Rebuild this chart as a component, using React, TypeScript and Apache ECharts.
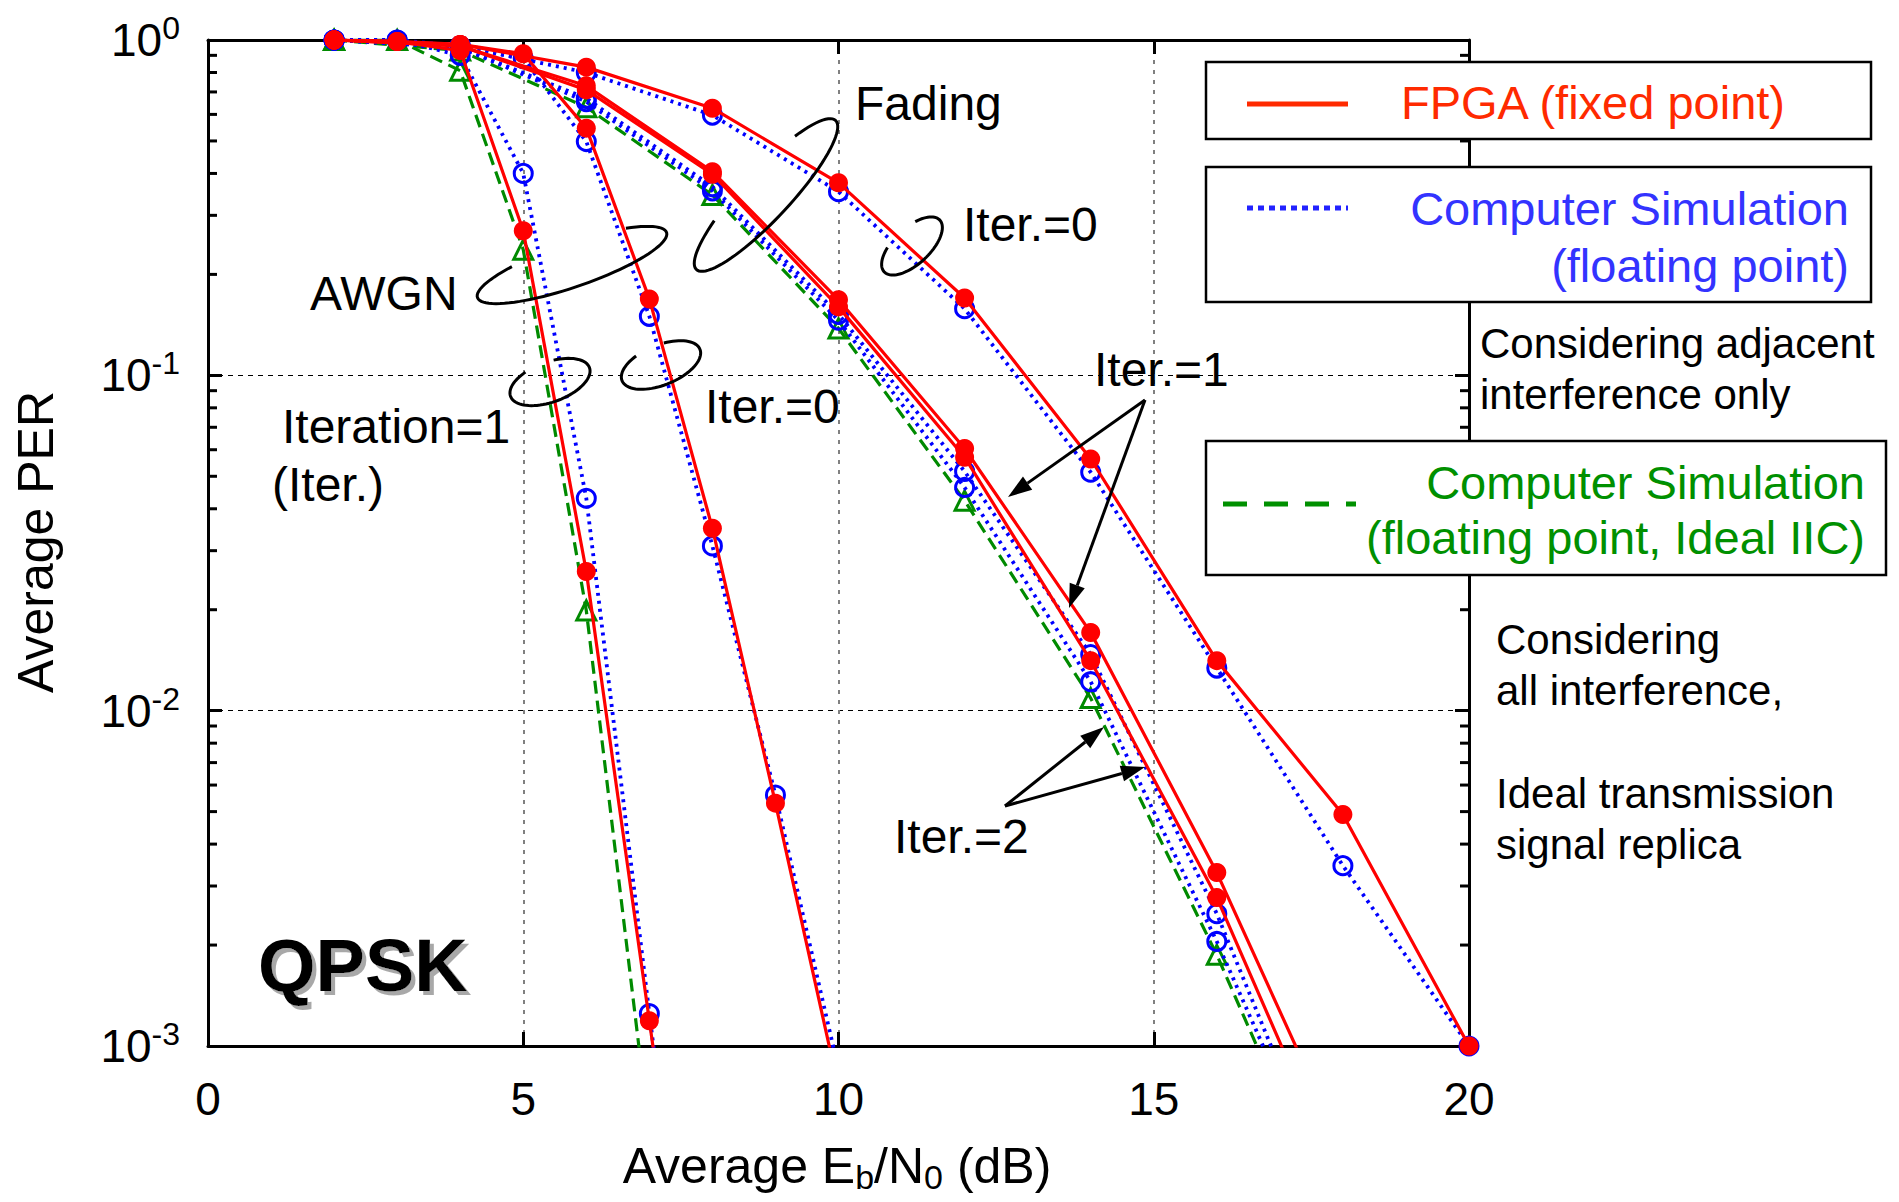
import React, { useEffect, useRef } from 'react';
import * as echarts from 'echarts';

const FONT = '"Liberation Sans", Arial, Helvetica, sans-serif';

// ---- tick labels ----
const xTickLabels = ['0', '5', '10', '15', '20'];
const yTickExponents = ['0', '-1', '-2', '-3'];
const yMinorTicks = [
  0.002, 0.003, 0.004, 0.005, 0.006, 0.007, 0.008, 0.009,
  0.02, 0.03, 0.04, 0.05, 0.06, 0.07, 0.08, 0.09,
  0.2, 0.3, 0.4, 0.5, 0.6, 0.7, 0.8, 0.9,
];

// ---- AWGN ----
const snrAwgn = [2, 3, 4, 5, 6, 7, 8, 9, 10];
const awgnIter0Fpga = [1, 0.99, 0.97, 0.91, 0.546, 0.169, 0.035, 0.0053, 0.00075];
const awgnIter0Sim = [1, 1, 0.96, 0.88, 0.498, 0.15, 0.031, 0.0056, 0.00085];
const awgnIter1Fpga = [1, 0.99, 0.93, 0.27, 0.026, 0.00119, 0.000055];
const awgnIter1Sim = [1, 1, 0.9, 0.4, 0.043, 0.00125, 0.00004];
const awgnIter1Ideal = [1, 1, 0.81, 0.237, 0.0199, 0.00055];

// ---- Fading ----
const snrFading = [2, 4, 6, 8, 10, 12, 14, 16, 18, 20];
const fadingIter0Fpga = [1, 0.97, 0.83, 0.626, 0.375, 0.17, 0.0563, 0.0141, 0.0049, 0.001];
const fadingIter0Sim = [1, 0.96, 0.8, 0.597, 0.353, 0.158, 0.0514, 0.0134, 0.00345, 0.001];
const fadingIter1Fpga = [1, 0.96, 0.73, 0.405, 0.168, 0.0605, 0.0171, 0.00329, 0.00049];
const fadingIter2Fpga = [1, 0.96, 0.71, 0.398, 0.16, 0.057, 0.0141, 0.00277, 0.00038];
const fadingIter1Sim = [1, 0.95, 0.67, 0.365, 0.152, 0.0517, 0.0147, 0.00248, 0.0003];
const fadingIter2Sim = [1, 0.95, 0.655, 0.355, 0.146, 0.0463, 0.0122, 0.00205, 0.00029];
const fadingIdeal = [1, 0.93, 0.63, 0.345, 0.138, 0.0423, 0.0109, 0.00187, 0.00026];

const RED = '#ff0000';
const BLUE = '#0000ff';
const GREEN = '#008a00';

const zip = (xs: number[], ys: number[]) => ys.map((y, i) => [xs[i], y]);

const redSeries = (name: string, xs: number[], ys: number[]) => ({
  type: 'line', name, data: zip(xs, ys), clip: true, z: 5,
  symbol: 'circle', symbolSize: 19,
  itemStyle: { color: RED },
  lineStyle: { color: RED, width: 3.2 },
  emphasis: { disabled: true },
});
const blueSeries = (name: string, xs: number[], ys: number[]) => ({
  type: 'line', name, data: zip(xs, ys), clip: true, z: 4,
  symbol: 'circle', symbolSize: 18,
  itemStyle: { color: 'rgba(0,0,0,0)', borderColor: BLUE, borderWidth: 3 },
  lineStyle: { color: BLUE, width: 3.8, type: [3, 5] },
  emphasis: { disabled: true },
});
const greenSeries = (name: string, xs: number[], ys: number[]) => ({
  type: 'line', name, data: zip(xs, ys), clip: true, z: 3,
  symbol: 'triangle', symbolSize: 19,
  itemStyle: { color: 'rgba(0,0,0,0)', borderColor: GREEN, borderWidth: 3 },
  lineStyle: { color: GREEN, width: 3.2, type: [13, 7] },
  emphasis: { disabled: true },
});

function ellipsePoints(cx: number, cy: number, a: number, b: number, rotDeg: number, t0: number, t1: number) {
  const r = (rotDeg * Math.PI) / 180;
  const ux = Math.cos(r), uy = Math.sin(r);
  const vx = -uy, vy = ux;
  const pts: number[][] = [];
  const n = 72;
  for (let i = 0; i <= n; i++) {
    const t = ((t0 + ((t1 - t0) * i) / n) * Math.PI) / 180;
    const ca = a * Math.cos(t), sb = b * Math.sin(t);
    pts.push([cx + ca * ux + sb * vx, cy + ca * uy + sb * vy]);
  }
  return { type: 'polyline', z: 100, shape: { points: pts }, style: { stroke: '#000', lineWidth: 3, fill: null } };
}

function arrow(x1: number, y1: number, x2: number, y2: number) {
  const dx = x2 - x1, dy = y2 - y1;
  const L = Math.hypot(dx, dy);
  const ux = dx / L, uy = dy / L;
  const hl = 24, hw = 8;
  const bx = x2 - ux * hl, by = y2 - uy * hl;
  return [
    { type: 'line', z: 100, shape: { x1, y1, x2: bx, y2: by }, style: { stroke: '#000', lineWidth: 3 } },
    {
      type: 'polygon', z: 100,
      shape: { points: [[x2, y2], [bx - uy * hw, by + ux * hw], [bx + uy * hw, by - ux * hw]] },
      style: { fill: '#000' },
    },
  ];
}

const txt = (text: string, x: number, y: number, opts: any = {}) => ({
  type: 'text', x, y, z: 100,
  style: { text, fontSize: 48, fontFamily: FONT, fill: '#000', align: 'left', verticalAlign: 'middle', ...opts },
});

export default function App() {
  const ref = useRef<HTMLDivElement>(null);
  useEffect(() => {
    if (!ref.current) return;
    const chart = echarts.init(ref.current, null, { renderer: 'svg' });

    const axisLineStyle = { color: '#000', width: 3 };
    const graphics: any[] = [
      // axis titles
      {
        type: 'text', x: 36, y: 542, rotation: Math.PI / 2, z: 100,
        style: { text: 'Average PER', fontSize: 50, fontFamily: FONT, fill: '#000', align: 'center', verticalAlign: 'middle' },
      },
      {
        type: 'text', x: 837, y: 1166, z: 100,
        style: {
          text: '{m|Average E}{s|b}{m|/N}{s|0}{m| (dB)}',
          align: 'center', verticalAlign: 'middle', fontFamily: FONT, fill: '#000',
          rich: {
            m: { fontSize: 50, lineHeight: 56, fontFamily: FONT, fill: '#000' },
            s: { fontSize: 34, lineHeight: 36, verticalAlign: 'bottom', fontFamily: FONT, fill: '#000' },
          },
        },
      },
      // annotations
      txt('Fading', 855, 103),
      txt('Iter.=0', 963, 224),
      txt('AWGN', 310, 293),
      txt('Iteration=1', 282, 426),
      txt('(Iter.)', 272, 484),
      txt('Iter.=0', 705, 406),
      txt('Iter.=1', 1094, 369),
      txt('Iter.=2', 894, 836),
      txt('QPSK', 258, 965, {
        fontSize: 74, fontWeight: 'bold', fill: '#000',
        textShadowColor: '#a8a8a8', textShadowBlur: 1, textShadowOffsetX: 4, textShadowOffsetY: 4,
      }),
      // loops
      ellipsePoints(572, 265, 100, 22, -19, -51, 235),
      ellipsePoints(766, 195, 102, 24, -47, -52, 238),
      ellipsePoints(550, 382, 42, 20, -20, -75, 242),
      ellipsePoints(661, 365, 42, 20, -22, -75, 242),
      ellipsePoints(912, 246, 38, 18, -43, -60, 240),
      // arrows
      ...arrow(1145, 400, 1008, 497),
      ...arrow(1145, 400, 1069, 608),
      ...arrow(1005, 806, 1104, 727),
      ...arrow(1005, 806, 1145, 767),
      // legend boxes
      { type: 'rect', z: 100, shape: { x: 1206, y: 62, width: 665, height: 77 }, style: { fill: '#fff', stroke: '#000', lineWidth: 2.5 } },
      { type: 'line', z: 101, shape: { x1: 1247, y1: 104, x2: 1348, y2: 104 }, style: { stroke: '#ff2a00', lineWidth: 5 } },
      txt('FPGA (fixed point)', 1401, 102, { fontSize: 47, fill: '#ff2a00' }),
      { type: 'rect', z: 100, shape: { x: 1206, y: 167, width: 665, height: 135 }, style: { fill: '#fff', stroke: '#000', lineWidth: 2.5 } },
      { type: 'line', z: 101, shape: { x1: 1247, y1: 208, x2: 1348, y2: 208 }, style: { stroke: '#2222ff', lineWidth: 5, lineDash: [6, 5] } },
      txt('Computer Simulation', 1849, 208, { fontSize: 47, fill: '#3333ff', align: 'right' }),
      txt('(floating point)', 1849, 265, { fontSize: 47, fill: '#3333ff', align: 'right' }),
      { type: 'rect', z: 100, shape: { x: 1206, y: 441, width: 680, height: 134 }, style: { fill: '#fff', stroke: '#000', lineWidth: 2.5 } },
      { type: 'line', z: 101, shape: { x1: 1223, y1: 504, x2: 1356, y2: 504 }, style: { stroke: '#009000', lineWidth: 5, lineDash: [24, 17] } },
      txt('Computer Simulation', 1865, 482, { fontSize: 47, fill: '#009000', align: 'right' }),
      txt('(floating point, Ideal IIC)', 1865, 537, { fontSize: 47, fill: '#009000', align: 'right' }),
      // notes
      txt('Considering adjacent', 1480, 343, { fontSize: 42 }),
      txt('interference only', 1480, 394, { fontSize: 42 }),
      txt('Considering', 1496, 639, { fontSize: 42 }),
      txt('all interference,', 1496, 690, { fontSize: 42 }),
      txt('Ideal transmission', 1496, 793, { fontSize: 42 }),
      txt('signal replica', 1496, 844, { fontSize: 42 }),
    ];

    const option: any = {
      animation: false,
      backgroundColor: '#fff',
      grid: { left: 208, top: 40, right: 430, bottom: 156, containLabel: false },
      xAxis: [
        {
          type: 'value', min: 0, max: 20, interval: 5, position: 'bottom',
          axisLine: { show: true, onZero: false, lineStyle: axisLineStyle },
          axisTick: { show: true, inside: true, length: 14, lineStyle: { color: '#000', width: 3 } },
          axisLabel: {
            show: true, margin: 30, fontSize: 46, fontFamily: FONT, color: '#000',
            formatter: (v: number) => xTickLabels[Math.round(v / 5)],
          },
          splitLine: { show: true, lineStyle: { color: '#808080', width: 2, type: [4, 6] } },
        },
        {
          type: 'value', min: 0, max: 20, interval: 5, position: 'top',
          axisLine: { show: true, onZero: false, lineStyle: axisLineStyle },
          axisTick: { show: true, inside: true, length: 14, lineStyle: { color: '#000', width: 3 } },
          axisLabel: { show: false },
          splitLine: { show: false },
        },
      ],
      yAxis: [
        {
          type: 'log', logBase: 10, min: 0.001, max: 1, position: 'left',
          axisLine: { show: true, onZero: false, lineStyle: axisLineStyle },
          axisTick: { show: true, inside: true, length: 14, lineStyle: { color: '#000', width: 3 } },
          axisLabel: {
            show: true, margin: 28,
            formatter: (v: number) => {
              const e = Math.round(-Math.log10(v));
              return `{b|10}{s|${yTickExponents[e]}}`;
            },
            rich: {
              b: { fontSize: 46, lineHeight: 56, fontFamily: FONT, color: '#000' },
              s: { fontSize: 32, lineHeight: 22, verticalAlign: 'top', fontFamily: FONT, color: '#000' },
            },
          },
          splitLine: { show: true, lineStyle: { color: '#000', width: 1, type: [5, 5] } },
        },
        {
          type: 'log', logBase: 10, min: 0.001, max: 1, position: 'right',
          axisLine: { show: true, onZero: false, lineStyle: axisLineStyle },
          axisTick: { show: true, inside: true, length: 14, lineStyle: { color: '#000', width: 3 } },
          axisLabel: { show: false },
          splitLine: { show: false },
        },
      ],
      series: [
        {
          type: 'custom', name: 'minorTicks', z: 6, silent: true,
          data: yMinorTicks.map((v) => [0, v]),
          encode: { x: 0, y: 1 },
          renderItem: (params: any, api: any) => {
            const v = api.value(1);
            const pL = api.coord([0, v]);
            const pR = api.coord([20, v]);
            return {
              type: 'group',
              children: [
                { type: 'line', shape: { x1: pL[0], y1: pL[1], x2: pL[0] + 9, y2: pL[1] }, style: { stroke: '#000', lineWidth: 3 } },
                { type: 'line', shape: { x1: pR[0] - 9, y1: pR[1], x2: pR[0], y2: pR[1] }, style: { stroke: '#000', lineWidth: 3 } },
              ],
            };
          },
        },
        greenSeries('AWGN Iter1 Ideal', snrAwgn, awgnIter1Ideal),
        greenSeries('Fading Ideal', snrFading, fadingIdeal),
        blueSeries('AWGN Iter0 Sim', snrAwgn, awgnIter0Sim),
        blueSeries('AWGN Iter1 Sim', snrAwgn, awgnIter1Sim),
        blueSeries('Fading Iter0 Sim', snrFading, fadingIter0Sim),
        blueSeries('Fading Iter1 Sim', snrFading, fadingIter1Sim),
        blueSeries('Fading Iter2 Sim', snrFading, fadingIter2Sim),
        redSeries('AWGN Iter0 FPGA', snrAwgn, awgnIter0Fpga),
        redSeries('AWGN Iter1 FPGA', snrAwgn, awgnIter1Fpga),
        redSeries('Fading Iter0 FPGA', snrFading, fadingIter0Fpga),
        redSeries('Fading Iter1 FPGA', snrFading, fadingIter1Fpga),
        redSeries('Fading Iter2 FPGA', snrFading, fadingIter2Fpga),
      ],
      graphic: { elements: graphics },
    };

    chart.setOption(option);
    return () => chart.dispose();
  }, []);

  return (
    <div
      ref={ref}
      style={{ position: 'absolute', left: 0, top: 0, width: 1899, height: 1202, background: '#fff' }}
    />
  );
}
